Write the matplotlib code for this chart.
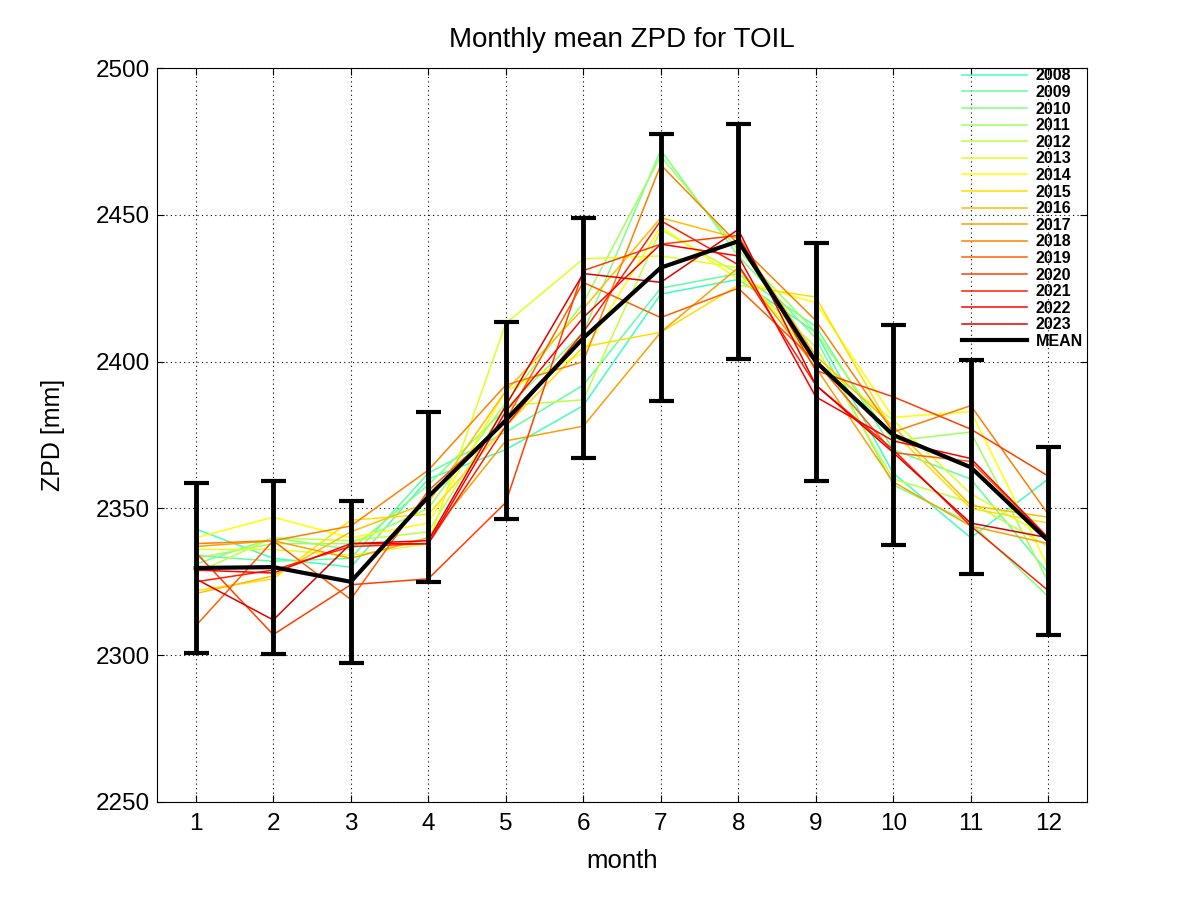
"""
Monthly mean ZPD for TOIL — yearly curves + mean with error bars
"""

import matplotlib
matplotlib.use("Agg")
import matplotlib.pyplot as plt
from matplotlib.lines import Line2D

plt.rcParams["font.family"] = ["Liberation Sans", "DejaVu Sans"]

# ── data ─────────────────────────────────────────────────────────

months = [1, 2, 3, 4, 5, 6, 7, 8, 9, 10, 11, 12]
years = [2008, 2009, 2010, 2011, 2012, 2013, 2014, 2015,
         2016, 2017, 2018, 2019, 2020, 2021, 2022, 2023]

zpd_2008 = [2343, 2333, 2330, 2360, 2370, 2385, 2423, 2428, 2410, 2362, 2340, 2360]
zpd_2009 = [2334, 2332, 2333, 2362, 2376, 2392, 2425, 2430, 2412, 2370, 2360, 2328]
zpd_2010 = [2331, 2340, 2336, 2358, 2384, 2410, 2472, 2436, 2408, 2358, 2345, 2320]
zpd_2011 = [2333, 2338, 2338, 2350, 2386, 2420, 2470, 2438, 2410, 2373, 2376, 2325]
zpd_2012 = [2328, 2340, 2339, 2342, 2385, 2387, 2445, 2430, 2405, 2360, 2352, 2337]
zpd_2013 = [2336, 2336, 2334, 2338, 2413, 2435, 2436, 2432, 2400, 2380, 2355, 2340]
zpd_2014 = [2340, 2347, 2340, 2345, 2390, 2403, 2446, 2428, 2420, 2381, 2383, 2330]
zpd_2015 = [2322, 2326, 2346, 2348, 2378, 2405, 2410, 2426, 2422, 2376, 2350, 2345]
zpd_2016 = [2321, 2327, 2342, 2352, 2390, 2418, 2449, 2442, 2402, 2378, 2351, 2347]
zpd_2017 = [2337, 2339, 2333, 2340, 2373, 2378, 2410, 2432, 2398, 2359, 2344, 2338]
zpd_2018 = [2338, 2339, 2344, 2363, 2392, 2400, 2467, 2440, 2414, 2376, 2385, 2348]
zpd_2019 = [2310, 2339, 2319, 2356, 2380, 2427, 2415, 2425, 2400, 2369, 2366, 2340]
zpd_2020 = [2335, 2307, 2324, 2326, 2352, 2431, 2440, 2443, 2397, 2388, 2377, 2361]
zpd_2021 = [2325, 2329, 2337, 2338, 2378, 2410, 2448, 2433, 2392, 2370, 2344, 2322]
zpd_2022 = [2329, 2328, 2338, 2338, 2383, 2415, 2440, 2436, 2388, 2373, 2367, 2340]
zpd_2023 = [2326, 2312, 2338, 2339, 2385, 2430, 2427, 2445, 2392, 2369, 2345, 2340]

zpd_mean = [2329.7, 2330, 2325, 2354, 2380, 2408, 2432, 2441, 2400, 2375, 2364, 2339]
zpd_std = [29, 29.5, 27.5, 29, 33.5, 41, 45.5, 40, 40.5, 37.5, 36.5, 32]

year_colors = ["#40FFBF", "#60FF9F", "#80FF80", "#9FFF60", "#BFFF40", "#DFFF20",
               "#FFFF00", "#FFDF00", "#FFBF00", "#FF9F00", "#FF8000", "#FF6000",
               "#FF4000", "#FF2000", "#FF0000", "#DF0000"]

series = [zpd_2008, zpd_2009, zpd_2010, zpd_2011, zpd_2012, zpd_2013, zpd_2014, zpd_2015,
          zpd_2016, zpd_2017, zpd_2018, zpd_2019, zpd_2020, zpd_2021, zpd_2022, zpd_2023]

# ── plot ─────────────────────────────────────────────────────────

fig = plt.figure(figsize=(12.01, 9.01), dpi=100)
ax = fig.add_axes([0.1307, 0.1099, 0.7744, 0.8146])

for yr, vals, col in zip(years, series, year_colors):
    ax.plot(months, vals, color=col, linewidth=1.1, label=str(yr))

ax.errorbar(months, zpd_mean, yerr=zpd_std, color="black", linewidth=3,
            elinewidth=3.5, capsize=9, capthick=3, label="MEAN", zorder=5)

ax.set_xlim(0.5, 12.5)
ax.set_ylim(2250, 2500)
ax.set_xticks(months)
ax.set_yticks(range(2250, 2501, 50))
ax.tick_params(direction="in", length=5, labelsize=17.5, top=True, right=True)
ax.tick_params(axis="x", pad=8)
ax.tick_params(axis="y", pad=5)
ax.grid(True, color="black", linestyle=(0, (1, 3)), linewidth=0.8)

ax.set_title("Monthly mean ZPD for TOIL", fontsize=20, pad=15)
ax.set_xlabel("month", fontsize=18.5, labelpad=10)
ax.set_ylabel("ZPD [mm]", fontsize=18, labelpad=22)

handles, labels = ax.get_legend_handles_labels()
# errorbar container -> simple line for legend
handles[-1] = Line2D([], [], color="black", linewidth=3)
leg = fig.legend(handles, labels, loc="upper left", bbox_to_anchor=(0.801, 0.924),
                 frameon=False, borderpad=0, borderaxespad=0, handlelength=4.1,
                 handletextpad=0.5, labelspacing=0.1,
                 prop={"weight": "bold", "size": 11.5})

plt.savefig("out.png", dpi=100)
plt.close()
